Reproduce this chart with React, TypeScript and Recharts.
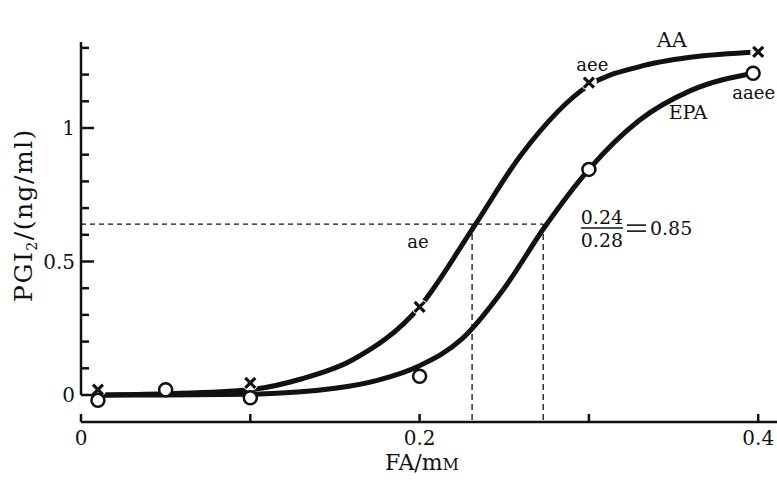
import { ComposedChart, Line, Scatter, XAxis, YAxis, ReferenceLine, ReferenceDot } from "recharts";

const FONT = "DejaVu Serif, serif";
const INK = "#111";

// smooth response curves
const aaCurveX = [0.01, 0.05, 0.1, 0.13, 0.16, 0.2, 0.232, 0.26, 0.3, 0.33, 0.36, 0.4];
const aaCurveY = [0.0, 0.005, 0.02, 0.06, 0.13, 0.33, 0.63, 0.9, 1.16, 1.23, 1.265, 1.285];
const epaCurveX = [0.01, 0.05, 0.1, 0.15, 0.175, 0.2, 0.225, 0.25, 0.274, 0.3, 0.33, 0.36, 0.397];
const epaCurveY = [0.0, 0.0, 0.003, 0.025, 0.055, 0.11, 0.21, 0.4, 0.63, 0.845, 1.03, 1.14, 1.205];

// measured points
const aaPointX = [0.01, 0.1, 0.2, 0.3, 0.4];
const aaPointY = [0.02, 0.045, 0.33, 1.17, 1.285];
const epaPointX = [0.01, 0.05, 0.1, 0.2, 0.3, 0.397];
const epaPointY = [-0.02, 0.02, -0.01, 0.07, 0.845, 1.205];

// half-max construction
const halfX = [0.231, 0.273];
const halfY = 0.64;

const xTicks = [0, 0.1, 0.2, 0.3, 0.4];
const xTickLabels = ["0", "", "0.2", "", "0.4"];
const yTicks = [0, 0.1, 0.2, 0.3, 0.4, 0.5, 0.6, 0.7, 0.8, 0.9, 1, 1.1, 1.2, 1.3];
const yTickLabels = ["0", "", "", "", "", "0.5", "", "", "", "", "1", "", "", ""];

const Y_MIN = -0.1011;
const Y_MAX = 1.4494;
const X_MAX = 0.4111;

const zip = (xs: number[], ys: number[]) => xs.map((x, i) => ({ x, y: ys[i] }));

function YTick(props: any) {
  const { x, y, payload } = props;
  const i = yTicks.indexOf(payload.value);
  const label = yTickLabels[i] ?? "";
  const major = label !== "";
  return (
    <g>
      <line x1={x} x2={x + (major ? 13 : 8)} y1={y} y2={y} stroke={INK} strokeWidth={2.5} />
      {major && (
        <text x={x - 6} y={y} dy="0.36em" textAnchor="end" fontFamily={FONT} fontSize={20} fill={INK}>
          {label}
        </text>
      )}
    </g>
  );
}

function XTick(props: any) {
  const { x, y, payload } = props;
  const i = xTicks.indexOf(payload.value);
  const label = xTickLabels[i] ?? "";
  return (
    <g>
      <line x1={x} x2={x} y1={y} y2={y - 8} stroke={INK} strokeWidth={2.5} />
      {label && (
        <text x={x} y={y + 23} textAnchor="middle" fontFamily={FONT} fontSize={20} fill={INK}>
          {label}
        </text>
      )}
    </g>
  );
}

const Cross = (p: any) => (
  <g>
    <circle cx={p.cx} cy={p.cy} r={8} fill="#fff" />
    <line x1={p.cx - 5} y1={p.cy - 5} x2={p.cx + 5} y2={p.cy + 5} stroke={INK} strokeWidth={3.2} />
    <line x1={p.cx + 5} y1={p.cy - 5} x2={p.cx - 5} y2={p.cy + 5} stroke={INK} strokeWidth={3.2} />
  </g>
);

const Ring = (p: any) => <circle cx={p.cx} cy={p.cy} r={6.5} fill="#fff" stroke={INK} strokeWidth={2.5} />;

const note = (text: string, size = 18, anchor = "middle") => (p: any) => (
  <text x={p.cx} y={p.cy} dy="0.35em" textAnchor={anchor} fontFamily={FONT} fontSize={size} fill={INK}>
    {text}
  </text>
);

const Fraction = (p: any) => (
  <g fontFamily={FONT} fontSize={19} fill={INK}>
    <text x={p.cx} y={p.cy - 4} textAnchor="middle">0.24</text>
    <line x1={p.cx - 21} x2={p.cx + 21} y1={p.cy} y2={p.cy} stroke={INK} strokeWidth={1.5} />
    <text x={p.cx} y={p.cy + 19} textAnchor="middle">0.28</text>
    <line x1={p.cx + 25} x2={p.cx + 44} y1={p.cy - 3} y2={p.cy - 3} stroke={INK} strokeWidth={1.6} />
    <line x1={p.cx + 25} x2={p.cx + 44} y1={p.cy + 3} y2={p.cy + 3} stroke={INK} strokeWidth={1.6} />
    <text x={p.cx + 48} y={p.cy} dy="0.35em">0.85</text>
  </g>
);

export default function App() {
  return (
    <div style={{ position: "absolute", left: 0, top: 0, width: 777, height: 484, background: "#fff" }}>
      <ComposedChart width={777} height={484} margin={{ top: 8, right: 0, bottom: 0, left: 0 }}>
        <XAxis
          type="number"
          dataKey="x"
          domain={[0, X_MAX]}
          ticks={xTicks}
          tick={<XTick />}
          tickLine={false}
          tickSize={0}
          tickMargin={0}
          axisLine={{ stroke: INK, strokeWidth: 2.5 }}
          height={62}
          allowDataOverflow
          label={{
            position: "insideBottom",
            content: (lp: any) => {
              const vb = lp.viewBox;
              return (
                <text x={vb.x + vb.width / 2 - 7} y={vb.y + 48} textAnchor="middle" fontFamily={FONT} fontSize={22} fill={INK}>
                  FA/m<tspan fontSize={16}>M</tspan>
                </text>
              );
            },
          }}
        />
        <YAxis
          type="number"
          dataKey="y"
          domain={[Y_MIN, Y_MAX]}
          ticks={yTicks}
          tick={<YTick />}
          tickLine={false}
          tickSize={0}
          tickMargin={0}
          axisLine={false}
          width={81}
          allowDataOverflow
          label={{
            position: "insideLeft",
            content: (lp: any) => {
              const vb = lp.viewBox;
              const cx = 23;
              const cy = vb.y + vb.height / 2;
              return (
                <text x={cx} y={cy} transform={`rotate(-90 ${cx} ${cy})`} dy="0.35em" textAnchor="middle" fontFamily={FONT} fontSize={25} letterSpacing={1.5} fill={INK}>
                  PGI<tspan fontSize={14} dy={5}>2</tspan><tspan dy={-5}>/(ng/ml)</tspan>
                </text>
              );
            },
          }}
        />

        {/* y axis runs only from 0 up */}
        <ReferenceLine segment={[{ x: 0, y: 0 }, { x: 0, y: 1.322 }]} stroke={INK} strokeWidth={2.5} ifOverflow="visible" />

        <ReferenceLine segment={[{ x: 0, y: halfY }, { x: halfX[1], y: halfY }]} stroke={INK} strokeWidth={1.3} strokeDasharray="5 4" />
        <ReferenceLine segment={[{ x: halfX[0], y: halfY }, { x: halfX[0], y: Y_MIN }]} stroke={INK} strokeWidth={1.3} strokeDasharray="6 4" />
        <ReferenceLine segment={[{ x: halfX[1], y: halfY }, { x: halfX[1], y: Y_MIN }]} stroke={INK} strokeWidth={1.3} strokeDasharray="6 4" />

        <Line data={zip(aaCurveX, aaCurveY)} dataKey="y" type="monotone" stroke={INK} strokeWidth={5} dot={false} isAnimationActive={false} />
        <Line data={zip(epaCurveX, epaCurveY)} dataKey="y" type="monotone" stroke={INK} strokeWidth={5} dot={false} isAnimationActive={false} />

        <Scatter data={zip(aaPointX, aaPointY)} shape={Cross} isAnimationActive={false} />
        <Scatter data={zip(epaPointX, epaPointY)} shape={Ring} isAnimationActive={false} />

        <ReferenceDot x={0.349} y={1.33} r={0} shape={note("AA", 21)} ifOverflow="visible" />
        <ReferenceDot x={0.302} y={1.236} r={0} shape={note("aee", 18)} ifOverflow="visible" />
        <ReferenceDot x={0.41} y={1.131} r={0} shape={note("aaee", 18, "end")} ifOverflow="visible" />
        <ReferenceDot x={0.3585} y={1.06} r={0} shape={note("EPA", 19)} ifOverflow="visible" />
        <ReferenceDot x={0.199} y={0.573} r={0} shape={note("ae", 18)} ifOverflow="visible" />
        <ReferenceDot x={0.3077} y={0.625} r={0} shape={Fraction} ifOverflow="visible" />
      </ComposedChart>
    </div>
  );
}
